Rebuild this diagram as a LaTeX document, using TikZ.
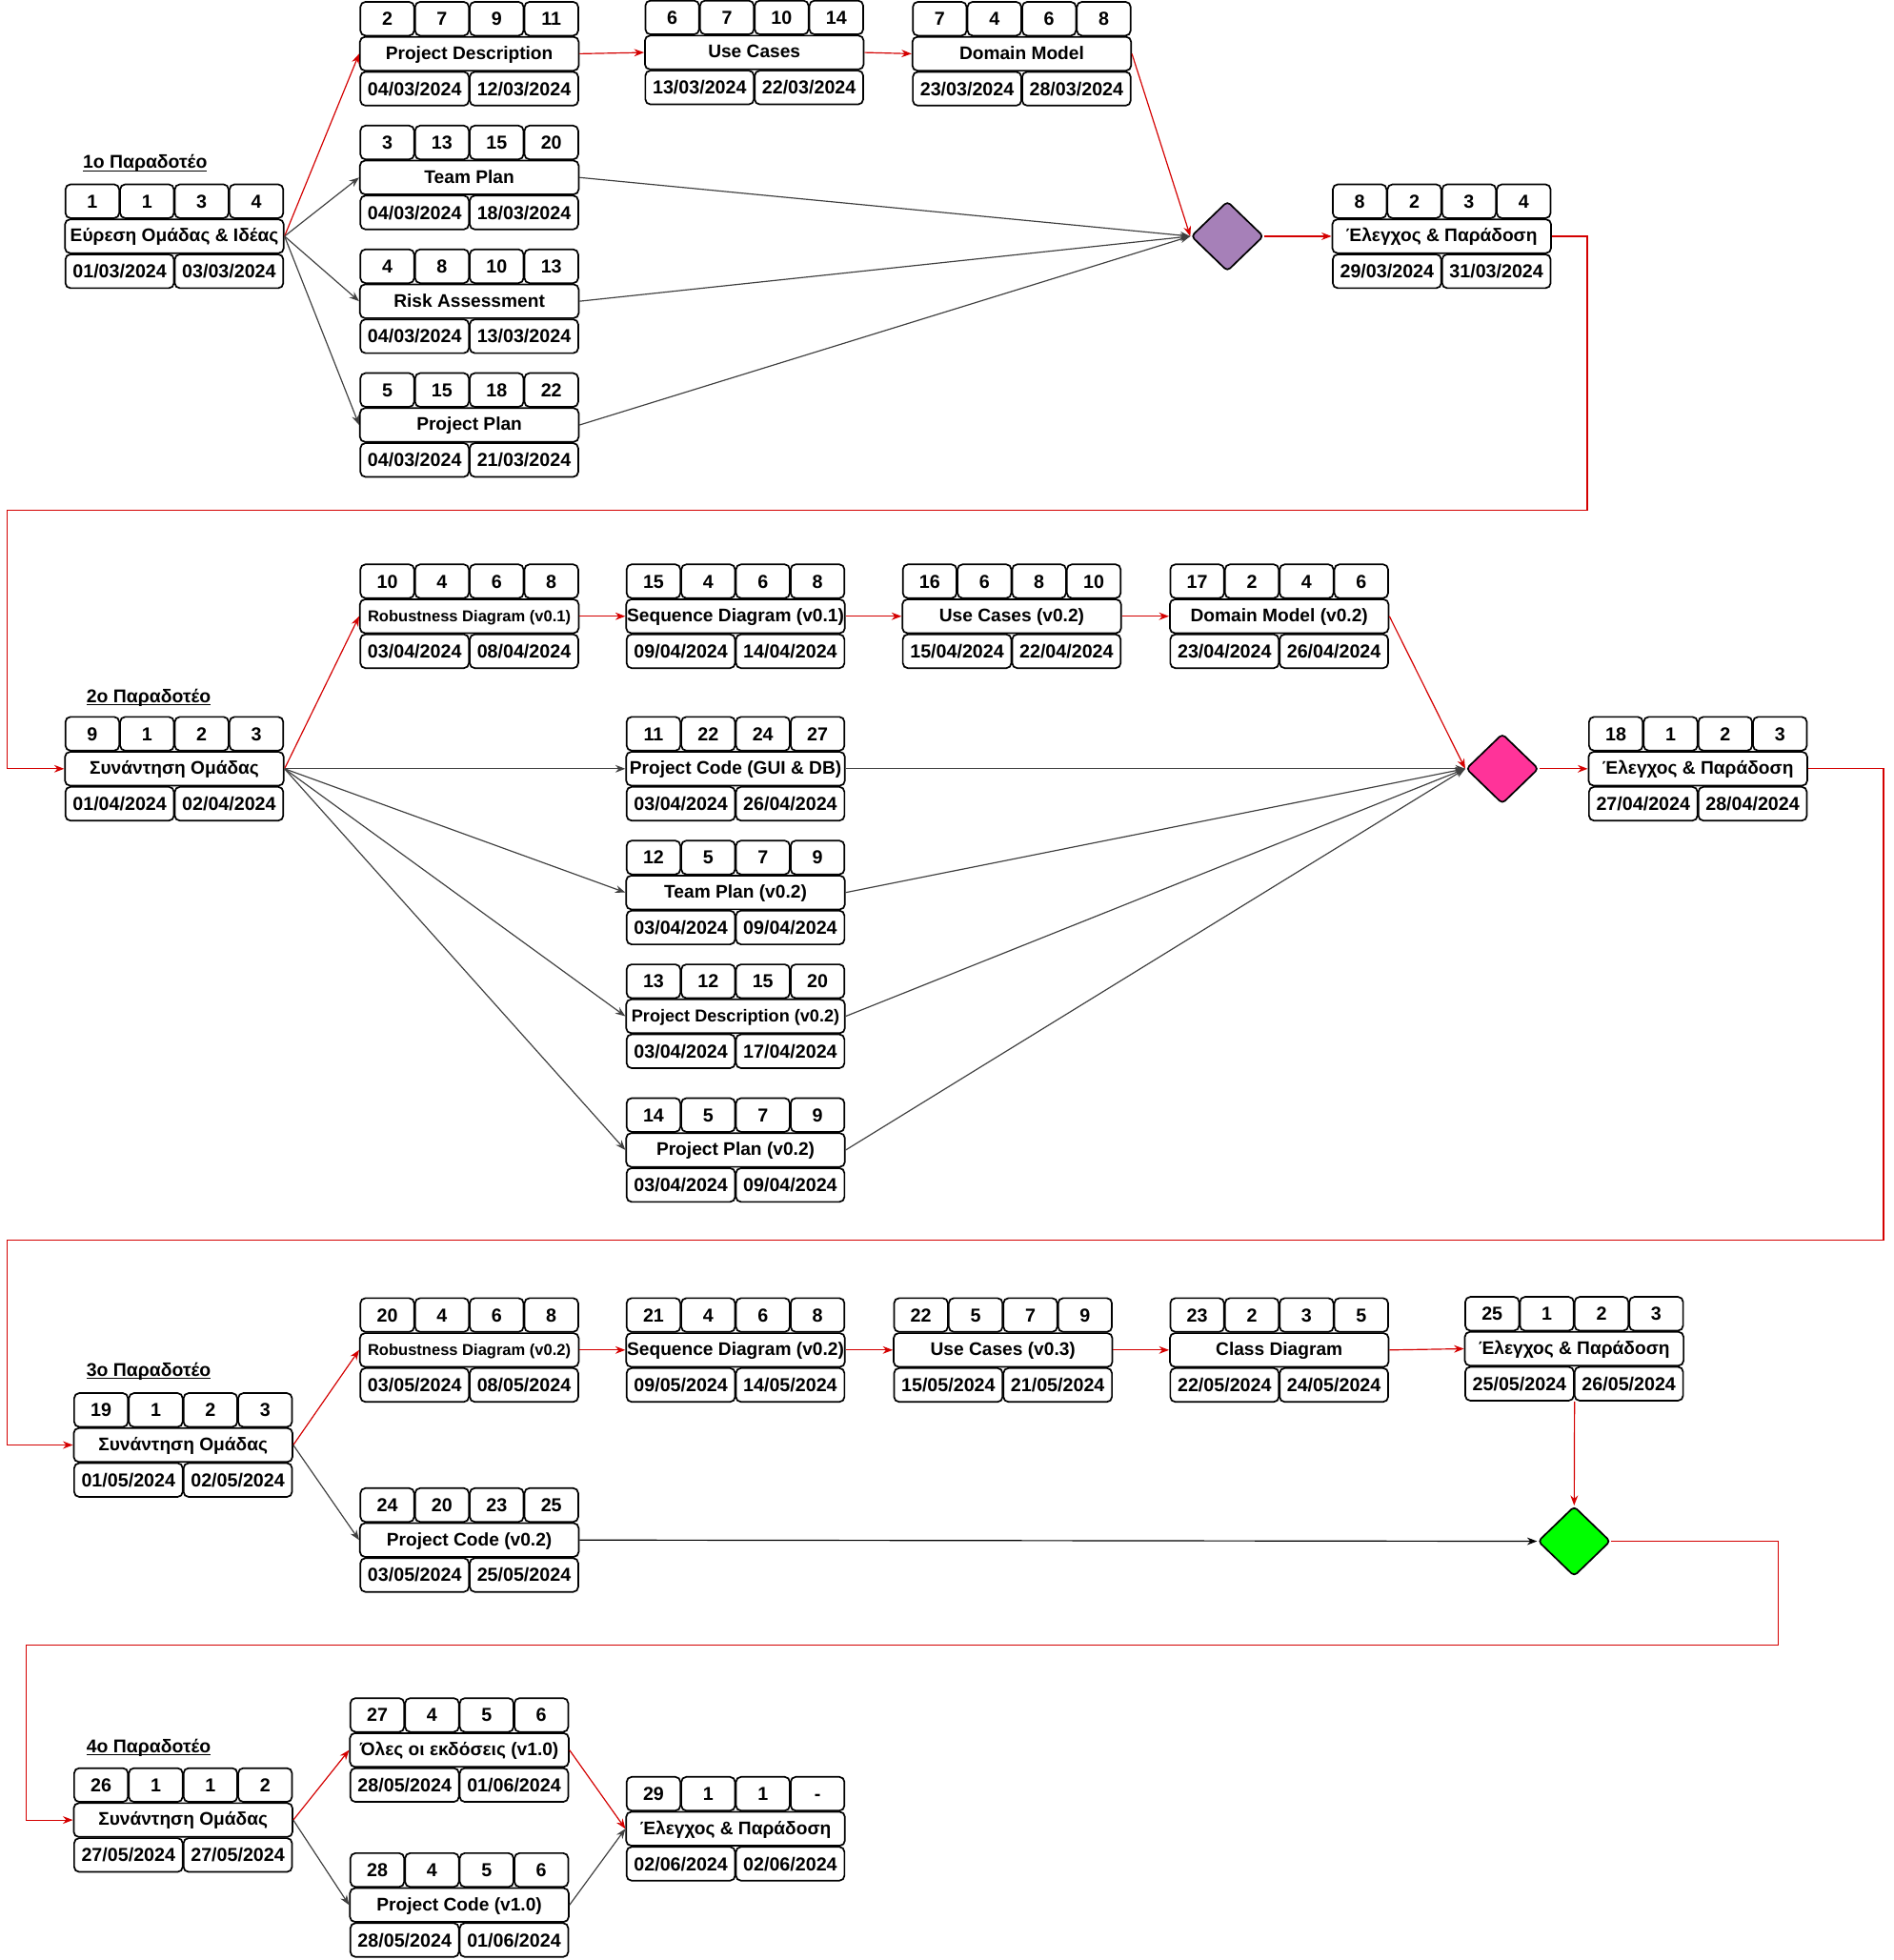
\documentclass[tikz,border=0pt]{standalone}
\usepackage{fontspec}
\setmainfont{Liberation Sans}
\usetikzlibrary{arrows.meta}
\usetikzlibrary{shapes.geometric}
\definecolor{critred}{HTML}{D40000}
\definecolor{gatepurple}{HTML}{A680B8}
\definecolor{gatepink}{HTML}{FF3399}
\definecolor{gategreen}{HTML}{00FF00}

\begin{document}
\begin{tikzpicture}[x=1pt, y=-1pt, inner sep=0pt,
  cell/.style={draw, fill=white, line width=1.3pt, rounded corners=4pt},
  numbox/.style={cell, minimum width=43pt, minimum height=27pt,
    font=\fontsize{15}{17}\selectfont\bfseries, text height=10.7pt, text depth=0pt},
  datebox/.style={numbox, minimum width=86.8pt},
  namebox/.style={cell, minimum width=175pt, minimum height=27pt,
    font=\fontsize{14.6}{17}\selectfont\bfseries, text height=10.5pt, text depth=1.5pt},
  gate/.style={diamond, draw, line width=1.3pt, rounded corners=3pt,
    minimum width=58pt, minimum height=56pt},
  phase/.style={font=\fontsize{14.8}{17}\selectfont\bfseries},
  crit/.style={draw=critred, line width=0.9pt, -{Stealth[length=8pt, width=6pt]}},
  flow/.style={draw=black!75, line width=0.9pt, -{Stealth[length=8pt, width=6pt]}}]
\path[use as bounding box, fill=white] (0,0) rectangle (1515,1568);
% #1 name, #2 centre of the name row, #3 four numbers, #4 name, #5 start, #6 end
\def\task#1#2#3#4#5#6{%
  \node[namebox] (#1) at (#2) {#4};
  \foreach \v [count=\i] in {#3}
    \node[numbox, xshift={(\i-2.5)*43.75pt}, yshift=28pt] (#1-\i) at (#1.center) {\v};
  \node[datebox, xshift=-43.75pt, yshift=-28pt] (#1-s) at (#1.center) {#5};
  \node[datebox, xshift=43.75pt, yshift=-28pt] (#1-e) at (#1.center) {#6};
}
\def\smaller#1{{\fontsize{12.6}{14}\selectfont #1}}
\def\uline#1{\setbox0\hbox{#1}\rlap{\rule[-2.4pt]{\wd0}{1.1pt}}\box0}

%% 1o Paradoteo
\node[phase] (ph1) at (116, 131) {\uline{1ο Παραδοτέο}};
\task{s1}{139.5, 189}{1,1,3,4}{Εύρεση Ομάδας \& Ιδέας}{01/03/2024}{03/03/2024}
\task{pd}{375.5, 43}{2,7,9,11}{Project Description}{04/03/2024}{12/03/2024}
\task{uc}{603.5, 42}{6,7,10,14}{Use Cases}{13/03/2024}{22/03/2024}
\task{dm}{817.5, 43}{7,4,6,8}{Domain Model}{23/03/2024}{28/03/2024}
\task{tp}{375.5, 142}{3,13,15,20}{Team Plan}{04/03/2024}{18/03/2024}
\task{ra}{375.5, 241}{4,8,10,13}{Risk Assessment}{04/03/2024}{13/03/2024}
\task{pp}{375.5, 340}{5,15,18,22}{Project Plan}{04/03/2024}{21/03/2024}
\node[gate, fill=gatepurple] (g1) at (982, 189) {};
\task{c1}{1153.5, 189}{8,2,3,4}{Έλεγχος \& Παράδοση}{29/03/2024}{31/03/2024}

\draw[crit] (s1.east) -- (pd.west);
\draw[flow] (s1.east) -- (tp.west);
\draw[flow] (s1.east) -- (ra.west);
\draw[flow] (s1.east) -- (pp.west);
\draw[crit] (pd.east) -- (uc.west);
\draw[crit] (uc.east) -- (dm.west);
\draw[crit] (dm.east) -- (g1.west);
\draw[flow] (tp.east) -- (g1.west);
\draw[flow] (ra.east) -- (g1.west);
\draw[flow] (pp.east) -- (g1.west);
\draw[crit] (g1.east) -- (c1.west);

%% 2o Paradoteo
\node[phase] (ph2) at (119, 558) {\uline{2ο Παραδοτέο}};
\task{s2}{139.5, 615}{9,1,2,3}{Συνάντηση Ομάδας}{01/04/2024}{02/04/2024}
\task{rd1}{375.5, 493}{10,4,6,8}{\smaller{Robustness Diagram (v0.1)}}{03/04/2024}{08/04/2024}
\task{sd1}{588.5, 493}{15,4,6,8}{Sequence Diagram (v0.1)}{09/04/2024}{14/04/2024}
\task{uc2}{809.5, 493}{16,6,8,10}{Use Cases (v0.2)}{15/04/2024}{22/04/2024}
\task{dm2}{1023.5, 493}{17,2,4,6}{Domain Model (v0.2)}{23/04/2024}{26/04/2024}
\task{pc1}{588.5, 615}{11,22,24,27}{Project Code (GUI \& DB)}{03/04/2024}{26/04/2024}
\task{tp2}{588.5, 714}{12,5,7,9}{Team Plan (v0.2)}{03/04/2024}{09/04/2024}
\task{pd2}{588.5, 813}{13,12,15,20}{{\fontsize{13.8}{15}\selectfont Project Description (v0.2)}}{03/04/2024}{17/04/2024}
\task{pp2}{588.5, 920}{14,5,7,9}{Project Plan (v0.2)}{03/04/2024}{09/04/2024}
\node[gate, fill=gatepink] (g2) at (1202, 615) {};
\task{c2}{1358.5, 615}{18,1,2,3}{Έλεγχος \& Παράδοση}{27/04/2024}{28/04/2024}

\draw[crit] (c1.east) -| (1270, 408) -| (6, 615) -- (s2.west);
\draw[crit] (s2.east) -- (rd1.west);
\draw[flow] (s2.east) -- (pc1.west);
\draw[flow] (s2.east) -- (tp2.west);
\draw[flow] (s2.east) -- (pd2.west);
\draw[flow] (s2.east) -- (pp2.west);
\draw[crit] (rd1.east) -- (sd1.west);
\draw[crit] (sd1.east) -- (uc2.west);
\draw[crit] (uc2.east) -- (dm2.west);
\draw[crit] (dm2.east) -- (g2.west);
\draw[flow] (pc1.east) -- (g2.west);
\draw[flow] (tp2.east) -- (g2.west);
\draw[flow] (pd2.east) -- (g2.west);
\draw[flow] (pp2.east) -- (g2.west);
\draw[crit] (g2.east) -- (c2.west);

%% 3o Paradoteo
\node[phase] (ph3) at (119, 1097) {\uline{3ο Παραδοτέο}};
\task{s3}{146.5, 1156}{19,1,2,3}{Συνάντηση Ομάδας}{01/05/2024}{02/05/2024}
\task{rd2}{375.5, 1080}{20,4,6,8}{\smaller{Robustness Diagram (v0.2)}}{03/05/2024}{08/05/2024}
\task{sd2}{588.5, 1080}{21,4,6,8}{Sequence Diagram (v0.2)}{09/05/2024}{14/05/2024}
\task{uc3}{802.5, 1080}{22,5,7,9}{Use Cases (v0.3)}{15/05/2024}{21/05/2024}
\task{cd}{1023.5, 1080}{23,2,3,5}{Class Diagram}{22/05/2024}{24/05/2024}
\task{c3}{1259.5, 1079}{25,1,2,3}{Έλεγχος \& Παράδοση}{25/05/2024}{26/05/2024}
\task{pc2}{375.5, 1232}{24,20,23,25}{Project Code (v0.2)}{03/05/2024}{25/05/2024}
\node[gate, fill=gategreen] (g3) at (1259.5, 1233) {};

\draw[crit] (c2.east) -| (1507, 992) -| (6, 1156) -- (s3.west);
\draw[crit] (s3.east) -- (rd2.west);
\draw[flow] (s3.east) -- (pc2.west);
\draw[crit] (rd2.east) -- (sd2.west);
\draw[crit] (sd2.east) -- (uc3.west);
\draw[crit] (uc3.east) -- (cd.west);
\draw[crit] (cd.east) -- (c3.west);
\draw[crit] (c3-s.south east) -- (g3.north);
\draw[flow, draw=black] (pc2.east) -- (g3.west);

%% 4o Paradoteo
\node[phase] (ph4) at (119, 1398) {\uline{4ο Παραδοτέο}};
\task{s4}{146.5, 1456}{26,1,1,2}{Συνάντηση Ομάδας}{27/05/2024}{27/05/2024}
\task{all}{367.5, 1400}{27,4,5,6}{Όλες οι εκδόσεις (v1.0)}{28/05/2024}{01/06/2024}
\task{pc3}{367.5, 1524}{28,4,5,6}{Project Code (v1.0)}{28/05/2024}{01/06/2024}
\task{c4}{588.5, 1463}{29,1,1,-}{Έλεγχος \& Παράδοση}{02/06/2024}{02/06/2024}

\draw[crit] (g3.east) -| (1423, 1316) -| (21, 1456) -- (s4.west);
\draw[crit] (s4.east) -- (all.west);
\draw[flow] (s4.east) -- (pc3.west);
\draw[crit] (all.east) -- (c4.west);
\draw[flow] (pc3.east) -- (c4.west);
\end{tikzpicture}
\end{document}
